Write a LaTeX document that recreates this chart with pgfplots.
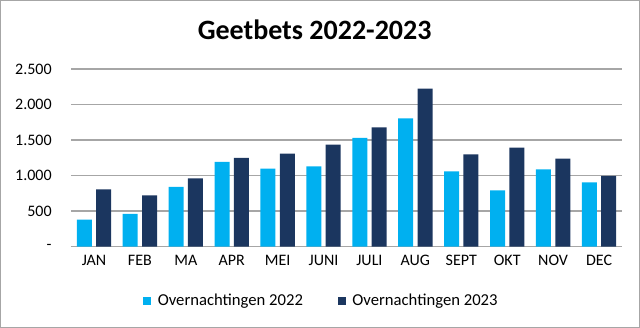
\documentclass[border=0pt]{standalone}
\usepackage{pgfplots}
\pgfplotsset{compat=1.18}
\usepackage{fontspec}
\setmainfont{Carlito}
\definecolor{c22}{HTML}{00B0F0}
\definecolor{c23}{HTML}{1B365F}
\definecolor{gridc}{HTML}{A6A6A6}
\begin{document}
\begin{tikzpicture}
\useasboundingbox (0,0) rectangle (480pt,246pt);
\draw[gridc, line width=0.9pt] (0.45pt,0.45pt) rectangle (479.55pt,245.55pt);
\node[font=\fontsize{21}{24}\selectfont\bfseries] at (236pt,223.5pt) {Geetbets 2022-2023};
\begin{axis}[
  at={(53.25pt,61pt)}, anchor=south west,
  scale only axis, width=413.25pt, height=133.3pt,
  ybar=3.2pt, bar width=11.3pt,
  xmin=-0.5, xmax=11.5, ymin=0, ymax=2500,
  xtick={0,...,11},
  xticklabels={JAN,FEB,MA,APR,MEI,JUNI,JULI,AUG,SEPT,OKT,NOV,DEC},
  ytick={0,500,1000,1500,2000,2500},
  yticklabels={-,500,1.000,1.500,2.000,2.500},
  /pgf/number format/assume math mode=true,
  tick label style={font=\fontsize{12}{14}\selectfont},
  yticklabel style={xshift=-11pt},
  xticklabel style={yshift=-3pt},
  major tick length=0pt,
  ymajorgrids, grid style={gridc, line width=1.1pt},
  axis x line*=bottom, axis y line*=left,
  x axis line style={gridc, line width=1.1pt, -},
  y axis line style={draw=none},
  legend style={at={(0.455,-0.235)}, anchor=north, draw=none, legend columns=2,
    font=\fontsize{12.5}{14}\selectfont,
    /tikz/every odd column/.append style={column sep=3pt},
    /tikz/every even column/.append style={column sep=24pt}},
  legend image code/.code={\fill[#1] (0pt,-3pt) rectangle (6pt,3pt);},
]
\addplot[fill=c22, draw=none] coordinates {(0,380) (1,460) (2,840) (3,1191) (4,1097) (5,1131) (6,1529) (7,1806) (8,1060) (9,793) (10,1088) (11,906)};
\addplot[fill=c23, draw=none] coordinates {(0,807) (1,723) (2,962) (3,1248) (4,1308) (5,1435) (6,1679) (7,2222) (8,1299) (9,1392) (10,1238) (11,994)};
\legend{Overnachtingen 2022, Overnachtingen 2023}
\end{axis}
\end{tikzpicture}
\end{document}
